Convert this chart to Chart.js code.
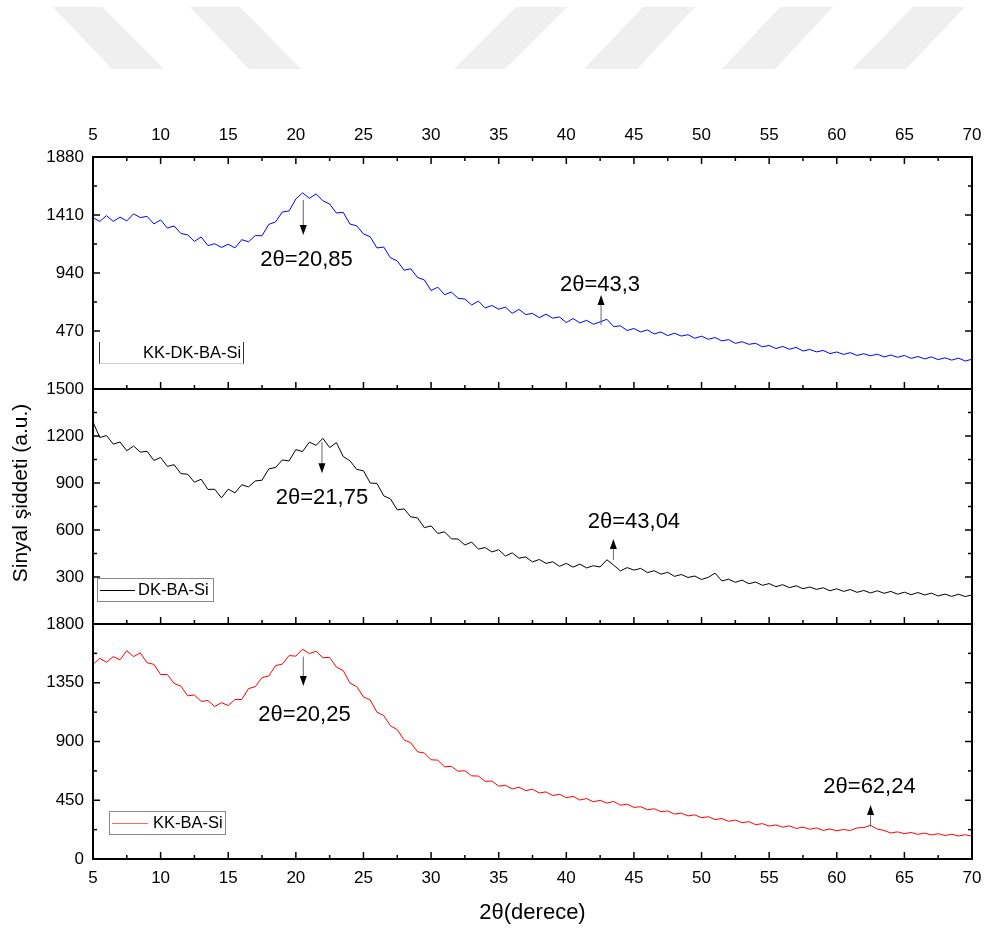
<!DOCTYPE html>
<html>
<head>
<meta charset="utf-8">
<script src="https://cdn.jsdelivr.net/npm/chart.js@4.4.1/dist/chart.umd.min.js"></script>
<style>
html,body{margin:0;padding:0;background:#fff;}
#wrap{position:relative;width:984px;height:931px;}
canvas{display:block;}
</style>
</head>
<body>
<div id="wrap"><canvas id="c" width="984" height="931"></canvas></div>
<script>
// 2θ (degrees) sampling grid
const angles = [5,5.5,6,6.5,7,7.5,8,8.5,9,9.5,10,10.5,11,11.5,12,12.5,13,13.5,14,14.5,15,15.5,16,16.5,17,17.5,18,18.5,19,19.5,20,20.5,21,21.5,22,22.5,23,23.5,24,24.5,25,25.5,26,26.5,27,27.5,28,28.5,29,29.5,30,30.5,31,31.5,32,32.5,33,33.5,34,34.5,35,35.5,36,36.5,37,37.5,38,38.5,39,39.5,40,40.5,41,41.5,42,42.5,43,43.5,44,44.5,45,45.5,46,46.5,47,47.5,48,48.5,49,49.5,50,50.5,51,51.5,52,52.5,53,53.5,54,54.5,55,55.5,56,56.5,57,57.5,58,58.5,59,59.5,60,60.5,61,61.5,62,62.5,63,63.5,64,64.5,65,65.5,66,66.5,67,67.5,68,68.5,69,69.5,70];

const kkDkBaSi = [1388,1358,1405,1358,1393,1362,1419,1389,1399,1338,
1370,1304,1321,1260,1249,1196,1232,1162,1177,1147,
1173,1143,1210,1193,1243,1242,1334,1354,1434,1443,
1540,1590,1545,1581,1525,1499,1426,1432,1337,1322,
1257,1233,1143,1150,1063,1038,962,974,904,884,
798,825,764,786,735,729,681,712,657,677,
647,663,613,645,603,613,578,606,574,584,
538,571,536,556,525,544,565,506,512,474,
490,462,479,446,462,433,452,429,440,411,
428,403,417,390,400,370,383,362,370,342,
353,328,345,322,337,308,320,301,312,287,
300,280,295,272,286,269,282,260,275,257,
272,248,263,244,260,238,253,234,250,227,
241];

const dkBaSi = [1290,1190,1203,1148,1162,1106,1136,1097,1102,1044,
1063,1006,1017,960,956,905,924,859,860,805,
861,837,889,875,913,918,990,999,1047,1041,
1113,1101,1161,1140,1185,1126,1158,1069,1042,987,
978,900,897,818,798,728,735,684,677,615,
626,578,588,544,542,504,523,478,488,460,
474,434,454,420,428,396,412,387,397,368,
387,363,382,358,372,364,410,376,339,360,
344,355,328,340,318,330,304,316,297,306,
284,298,325,275,286,266,280,257,268,247,
258,238,251,232,244,225,236,221,231,212,
225,208,220,202,214,198,212,196,208,190,
203,187,201,185,197,179,191,176,190,175,
186];

const kkBaSi = [1490,1537,1507,1550,1526,1595,1550,1579,1503,1491,
1413,1413,1345,1324,1250,1256,1207,1214,1168,1197,
1176,1221,1222,1305,1320,1389,1402,1481,1493,1558,
1554,1607,1573,1591,1542,1544,1470,1444,1348,1321,
1241,1218,1124,1099,1020,991,913,890,821,812,
760,757,706,710,672,677,637,635,595,597,
558,565,536,550,524,534,506,514,486,496,
469,480,452,463,438,450,428,441,412,420,
395,401,377,385,362,368,344,351,330,338,
316,324,302,310,289,298,278,286,263,271,
252,261,244,254,234,244,228,238,219,230,
216,226,218,238,241,258,229,219,199,208,
194,203,189,198,184,194,180,190,176,186,
174];

const seriesNames = ['KK-DK-BA-Si','DK-BA-Si','KK-BA-Si'];
const seriesColors = ['#0000ff','#000000','#ff0000'];

// axis ranges and tick steps per panel (top, middle, bottom)
const panelMax = [1880,1500,1800];
const panelStep = [470,300,450];
const xTickStep = 5;

// peak annotations
const peakAxis   = ['yTop','yTop','yMid','yMid','yBot','yBot'];
const peakAngle  = [20.55, 42.57, 21.93, 43.48, 20.55, 62.5];
const peakBase   = [1531, 518, 1161, 408, 1550, 248];
const peakTip    = [1247, 761, 963, 542, 1325, 414];
const labelAngle = [20.79, 42.49, 21.93, 45.0, 20.64, 62.42];
const labelValue = [1045, 842, 804, 653, 1103, 554];
const peakLabels = ['2θ=20,85','2θ=43,3','2θ=21,75','2θ=43,04','2θ=20,25','2θ=62,24'];

const FONT = '"Liberation Sans", Arial, sans-serif';

function mk(arr){ return angles.map((a,i)=>({x:a,y:arr[i]})); }

const framePlugin = {
  id:'frame',
  beforeDraw(chart){
    const ctx = chart.ctx;
    ctx.save();
    ctx.fillStyle='#fff';
    ctx.fillRect(0,0,chart.width,chart.height);
    // faint watermark stripes
    ctx.fillStyle='#efefef';
    const stripes = [[53,102,164,112],[190,240,301,249],[516,567,505,454],[643,695,637,584],[780,833,775,722],[913,965,906,852]];
    stripes.forEach(s=>{
      ctx.beginPath();
      ctx.moveTo(s[0],7); ctx.lineTo(s[1],7); ctx.lineTo(s[2],69); ctx.lineTo(s[3],69); ctx.closePath(); ctx.fill();
    });
    ctx.restore();
  },
  afterDatasetsDraw(chart){
    const {ctx, chartArea:ca, scales} = chart;
    const x = scales.x;
    const panels = [scales.yTop, scales.yMid, scales.yBot];
    ctx.save();
    ctx.strokeStyle = '#000';
    const line=(x1,y1,x2,y2)=>{ctx.beginPath();ctx.moveTo(x1,y1);ctx.lineTo(x2,y2);ctx.stroke();};
    const xVals = x.ticks.map(t=>t.value);
    panels.forEach((ys,i)=>{
      ctx.lineWidth = 1.5;
      xVals.forEach((v,k)=>{
        const px = x.getPixelForValue(v);
        line(px, ys.bottom, px, ys.bottom-7);
        if (i===0) line(px, ys.top, px, ys.top+7);
        if (k < xVals.length-1){
          const pm = x.getPixelForValue(v + xTickStep/2);
          line(pm, ys.bottom, pm, ys.bottom-4);
          if (i===0) line(pm, ys.top, pm, ys.top+4);
        }
      });
      const yv = ys.ticks.map(t=>t.value);
      yv.forEach((v,k)=>{
        const py = ys.getPixelForValue(v);
        line(ca.left, py, ca.left+7, py);
        line(ca.right, py, ca.right-7, py);
        if (k < yv.length-1){
          const pm = ys.getPixelForValue(v + panelStep[i]/2);
          line(ca.left, pm, ca.left+4, pm);
          line(ca.right, pm, ca.right-4, pm);
        }
      });
      ctx.lineWidth = 2;
      ctx.strokeRect(ca.left, ys.top, ca.right-ca.left, ys.bottom-ys.top);
    });

    // peak annotations
    peakAxis.forEach((ax,i)=>{
      const ys = scales[ax];
      const px = x.getPixelForValue(peakAngle[i]);
      const yb = ys.getPixelForValue(peakBase[i]);
      const yt = ys.getPixelForValue(peakTip[i]);
      const dir = yt > yb ? 1 : -1;
      ctx.lineWidth = 1;
      ctx.strokeStyle = '#666';
      line(px, yb, px, yt - dir*8);
      ctx.fillStyle = '#000';
      ctx.beginPath();
      ctx.moveTo(px, yt);
      ctx.lineTo(px-3.5, yt - dir*10);
      ctx.lineTo(px+3.5, yt - dir*10);
      ctx.closePath(); ctx.fill();
      ctx.font = '22px ' + FONT;
      ctx.textAlign = 'center'; ctx.textBaseline = 'middle';
      ctx.fillText(peakLabels[i], x.getPixelForValue(labelAngle[i]), ys.getPixelForValue(labelValue[i]));
    });

    // legends
    ctx.font = '16.5px ' + FONT;
    ctx.textAlign = 'left'; ctx.textBaseline = 'middle';
    ctx.lineWidth = 1;
    ctx.strokeStyle = '#333';
    line(99.5, 342, 99.5, 364);
    line(243.5, 342, 243.5, 364);
    ctx.strokeStyle = '#d0d0d0';
    line(99.5, 363.5, 243.5, 363.5);
    ctx.fillStyle = '#000';
    ctx.fillText(seriesNames[0], 143, 353);
    ctx.strokeStyle = '#888';
    ctx.strokeRect(97.5, 578.5, 116, 23);
    ctx.strokeStyle = seriesColors[1]; ctx.lineWidth = 1;
    line(100, 590.5, 135, 590.5);
    ctx.fillText(seriesNames[1], 138, 590);
    ctx.strokeStyle = '#888';
    ctx.strokeRect(109.5, 811.5, 116, 23);
    ctx.strokeStyle = '#ff6666';
    line(112, 823.5, 148, 823.5);
    ctx.fillStyle = '#000';
    ctx.fillText(seriesNames[2], 153, 823);

    // y title
    ctx.save();
    ctx.translate(21, 493);
    ctx.rotate(-Math.PI/2);
    ctx.font = '21px ' + FONT;
    ctx.textAlign = 'center'; ctx.textBaseline = 'middle';
    ctx.fillText('Sinyal şiddeti (a.u.)', 0, 0);
    ctx.restore();
    ctx.restore();
  }
};

const tickFont = {family: FONT, size: 17};
function yAxis(i, w){
  return {
    type:'linear', position:'left', stack:'panels', stackWeight:w, weight: 3-i,
    min:0, max:panelMax[i],
    ticks:{stepSize:panelStep[i], font:tickFont, color:'#000', padding:9,
      callback:(v)=> (i<2 && v===0) ? null : String(v)},
    grid:{display:false, drawTicks:false}, border:{display:false},
    afterFit(s){ s.width = 93; s.paddingTop = 0; s.paddingBottom = 0; }
  };
}

new Chart(document.getElementById('c'), {
  type:'line',
  data:{
    datasets:[
      {label:seriesNames[0], data:mk(kkDkBaSi), yAxisID:'yTop', borderColor:seriesColors[0], borderWidth:1, pointRadius:0, tension:0},
      {label:seriesNames[1], data:mk(dkBaSi), yAxisID:'yMid', borderColor:seriesColors[1], borderWidth:1, pointRadius:0, tension:0},
      {label:seriesNames[2], data:mk(kkBaSi), yAxisID:'yBot', borderColor:seriesColors[2], borderWidth:1, pointRadius:0, tension:0}
    ]
  },
  options:{
    responsive:false, animation:false, devicePixelRatio:1,
    layout:{padding:{left:0,right:12,top:0,bottom:0}},
    plugins:{legend:{display:false}, tooltip:{enabled:false}},
    scales:{
      x:{type:'linear', position:'bottom', min:5, max:70,
        ticks:{stepSize:xTickStep, font:tickFont, color:'#000', padding:9, maxRotation:0},
        grid:{display:false, drawTicks:false}, border:{display:false},
        title:{display:true, text:'2θ(derece)', font:{family:FONT,size:22}, color:'#000', padding:{top:0,bottom:5}},
        afterFit(s){ s.height = 72; s.paddingLeft = 0; s.paddingRight = 0; }},
      xTop:{type:'linear', position:'top', min:5, max:70,
        ticks:{stepSize:xTickStep, font:tickFont, color:'#000', padding:11, maxRotation:0},
        grid:{display:false, drawTicks:false}, border:{display:false},
        afterFit(s){ s.height = 157; s.paddingLeft = 0; s.paddingRight = 0; }},
      yTop: yAxis(0, 232),
      yMid: yAxis(1, 235),
      yBot: yAxis(2, 235)
    }
  },
  plugins:[framePlugin]
});
</script>
</body>
</html>
